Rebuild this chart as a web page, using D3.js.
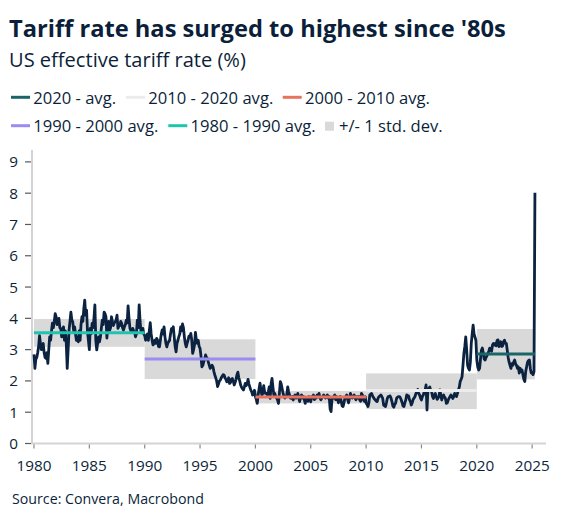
<!DOCTYPE html>
<html><head><meta charset="utf-8">
<script src="https://cdn.jsdelivr.net/npm/d3@7"></script>
<style>body{margin:0;background:#fff}svg{display:block}</style>
</head><body><svg id="c" width="567" height="521"></svg>
<script>
// Monthly US effective tariff rate (%), Jan 1980 onward
const tariff1980s = [
2.85,2.4,2.7,2.75,2.9,3.1,3.45,3.2,3.0,3.15,3.2,2.9,
2.75,2.72,2.9,2.56,3.0,3.41,3.3,3.6,3.85,3.7,3.9,4.15,
4.05,3.8,3.94,4.0,3.7,3.68,3.41,3.5,3.73,3.3,3.6,3.2,
2.4,3.0,3.62,3.9,4.2,3.95,3.89,3.6,3.73,3.5,3.3,3.4,
3.25,3.6,3.3,3.8,4.05,3.9,4.3,4.58,4.1,4.26,3.57,3.3,
3.0,3.68,3.5,3.84,3.7,4.0,4.43,3.3,2.99,3.2,3.41,3.25,
3.4,3.68,3.94,3.8,4.2,4.15,4.05,3.37,3.73,3.9,3.62,3.7,
4.05,3.9,3.77,3.85,3.89,3.95,4.1,3.68,3.75,3.77,3.9,3.84,
3.7,3.62,3.73,3.8,3.94,3.85,4.4,4.0,3.68,3.6,3.57,3.68,
3.6,3.57,3.41,3.5,3.94,3.7,4.43,3.9,3.57,3.6,3.68,3.5];
const tariff1990s = [
3.45,3.3,3.41,3.5,3.3,3.6,3.86,3.5,3.3,3.15,3.2,3.3,
3.2,3.36,3.3,3.1,3.09,3.3,3.5,3.63,3.5,3.73,3.4,3.2,
3.09,3.2,3.25,3.3,3.5,3.67,3.6,3.73,3.4,3.1,2.93,3.2,
3.3,3.41,3.5,3.73,3.6,3.82,3.7,3.4,3.2,3.09,3.2,3.3,
3.43,3.4,3.52,3.3,2.88,3.0,3.15,3.55,3.3,3.2,3.3,3.1,
3.04,2.8,2.45,2.5,2.61,2.7,2.83,2.75,2.72,2.6,2.5,2.4,
2.45,2.5,2.45,2.3,2.19,2.1,2.0,1.82,1.9,2.0,2.03,2.1,
2.15,2.2,2.19,2.1,2.05,1.97,2.0,2.1,1.92,1.95,2.05,2.08,
2.0,1.87,1.95,2.05,2.2,2.28,2.1,2.0,1.87,1.8,1.75,1.71,
1.8,1.92,1.85,1.9,2.05,1.9,1.8,1.71,1.65,1.55,1.6,1.7];
const tariff2000s = [
1.5,1.4,1.28,1.55,1.75,1.93,1.7,1.55,1.6,1.85,1.65,1.6,
1.6,1.55,1.65,1.81,1.44,1.9,2.08,1.8,1.55,1.6,1.5,1.45,
1.39,1.28,1.6,1.98,1.9,1.75,1.6,1.5,1.45,1.5,1.55,1.81,
1.65,1.55,1.45,1.44,1.5,1.39,1.5,1.55,1.45,1.5,1.6,1.45,
1.34,1.5,1.55,1.45,1.5,1.4,1.28,1.45,1.4,1.35,1.5,1.45,
1.33,1.5,1.45,1.55,1.4,1.5,1.45,1.55,1.5,1.6,1.45,1.4,
1.45,1.5,1.55,1.5,1.45,1.5,1.55,1.45,1.5,1.1,1.02,1.4,
1.45,1.5,1.55,1.4,1.5,1.45,1.3,1.45,1.5,1.35,1.2,1.18,
1.3,1.45,1.5,1.55,1.4,1.3,1.45,1.6,1.5,1.45,1.5,1.55,
1.45,1.4,1.5,1.45,1.5,1.4,1.35,1.6,1.55,1.4,1.35,1.5];
const tariff2010s = [
1.29,1.25,1.18,1.3,1.55,1.58,1.6,1.52,1.47,1.42,1.39,1.35,
1.34,1.45,1.5,1.52,1.55,1.5,1.44,1.23,1.2,1.18,1.3,1.44,
1.5,1.51,1.52,1.45,1.34,1.2,1.16,1.25,1.29,1.44,1.48,1.5,
1.5,1.47,1.4,1.31,1.2,1.18,1.3,1.39,1.55,1.53,1.52,1.4,
1.34,1.23,1.3,1.41,1.45,1.5,1.6,1.65,1.73,1.6,1.55,1.45,
1.39,1.5,1.55,1.65,1.71,1.87,1.07,1.7,1.76,1.81,1.7,1.65,
1.5,1.44,1.55,1.6,1.5,1.41,1.45,1.5,1.71,1.55,1.39,1.5,
1.55,1.48,1.44,1.28,1.3,1.39,1.45,1.5,1.55,1.5,1.44,1.5,
1.6,1.55,1.5,1.6,1.71,1.8,1.98,2.05,2.13,2.5,2.88,3.1,
3.41,3.0,2.5,2.4,2.35,2.6,3.2,3.5,3.78,3.5,3.4,3.3];
const tariff2020s = [
2.67,2.45,2.35,2.4,2.7,2.98,3.05,2.9,2.7,2.67,2.75,2.8,
2.88,2.95,3.05,3.0,2.95,3.15,3.2,3.15,3.2,3.12,3.3,3.31,
3.1,3.15,3.25,3.1,3.12,3.25,3.3,3.2,3.2,2.98,2.75,2.6,
2.5,2.4,2.55,2.5,2.6,2.67,2.55,2.5,2.4,2.45,2.25,2.4,
2.3,2.35,2.2,2.05,1.98,2.3,2.45,2.6,2.65,2.67,2.4,2.25,
2.28,2.2,2.3,8.01];

// Decade averages and +/- 1 std. dev. bands
const periodStart = [1980, 1990, 2000, 2010, 2020];
const periodEnd   = [1990, 2000, 2010, 2020, 2025.25];
const periodMean  = [3.54, 2.70, 1.49, 1.69, 2.86];
const periodLow   = [3.09, 2.06, 1.28, 1.10, 2.05];
const periodHigh  = [3.98, 3.33, 1.68, 2.24, 3.66];

const legendLabels = ["2020 - avg.", "2010 - 2020 avg.", "2000 - 2010 avg.",
                      "1990 - 2000 avg.", "1980 - 1990 avg.", "+/- 1 std. dev."];
const xTicks = [1980, 1985, 1990, 1995, 2000, 2005, 2010, 2015, 2020, 2025];
const yTicks = [0, 1, 2, 3, 4, 5, 6, 7, 8, 9];

// ---- styling ----
const FONT = "'Open Sans', 'Noto Sans', sans-serif";
const periodColors = ["#1fc4ae", "#9a8cf0", "#e9725f", "#ececec", "#1b6468"];
const bandColor = "#d9d9d9";
const lineColor = "#0b2340";
const textColor = "#0b1f3a";

const svg = d3.select("#c");
const x = d3.scaleLinear().domain([1979.82, 2026.25]).range([32, 546]);
const y = d3.scaleLinear().domain([0, 9.38]).range([443.5, 150]);

function fit(sel, w) {
  const len = sel.node().getComputedTextLength();
  const fs = parseFloat(sel.attr("font-size"));
  const nfs = fs * w / len;
  sel.attr("font-size", nfs);
  return nfs;
}

// Title & subtitle
const title = svg.append("text").attr("x", 9).attr("y", 36.7)
  .attr("font-family", FONT).attr("font-weight", 700).attr("font-size", 25)
  .attr("fill", textColor).text("Tariff rate has surged to highest since '80s");
fit(title, 497);
const sub = svg.append("text").attr("x", 9).attr("y", 67.3)
  .attr("font-family", FONT).attr("font-size", 20)
  .attr("fill", textColor).text("US effective tariff rate (%)");
fit(sub, 237);

// Legend
const legendPos = [[11, 97.3], [126, 97.3], [282.7, 97.3], [11, 125.7], [168.3, 125.7], [325, 125.7]];
const legendColors = [periodColors[4], periodColors[3], periodColors[2], periodColors[1], periodColors[0], bandColor];
const probe = svg.append("text").attr("font-family", FONT).attr("font-size", 16).text(legendLabels[2]);
const legFs = fit(probe, 125);
probe.remove();
legendLabels.forEach((lab, i) => {
  const [lx, ly] = legendPos[i];
  const g = svg.append("g");
  if (i < 5) {
    g.append("line").attr("x1", lx).attr("x2", lx + 19).attr("y1", ly).attr("y2", ly)
      .attr("stroke", legendColors[i]).attr("stroke-width", 3);
    g.append("text").attr("x", lx + 22.3).attr("y", ly + 6.7)
      .attr("font-family", FONT).attr("font-size", legFs).attr("fill", textColor).text(lab);
  } else {
    g.append("rect").attr("x", lx).attr("y", ly - 4).attr("width", 9).attr("height", 9)
      .attr("fill", bandColor);
    g.append("text").attr("x", lx + 14).attr("y", ly + 6.7)
      .attr("font-family", FONT).attr("font-size", legFs).attr("fill", textColor).text(lab);
  }
});

// Bands
const periods = periodStart.map((s, i) => ({s, e: periodEnd[i], m: periodMean[i], lo: periodLow[i], hi: periodHigh[i], c: periodColors[i]}));
svg.append("g").selectAll("rect").data(periods).join("rect")
  .attr("x", d => x(d.s)).attr("width", d => x(d.e) - x(d.s))
  .attr("y", d => y(d.hi)).attr("height", d => y(d.lo) - y(d.hi))
  .attr("fill", bandColor);

// Axes lines
svg.append("line").attr("x1", 32).attr("x2", 32).attr("y1", 150).attr("y2", y(0))
  .attr("stroke", "#d4d4d4").attr("stroke-width", 2);
svg.append("line").attr("x1", 31).attr("x2", 546).attr("y1", y(0)).attr("y2", y(0))
  .attr("stroke", "#d4d4d4").attr("stroke-width", 2);

// Y ticks
const probeT = svg.append("text").attr("font-family", FONT).attr("font-size", 15).text("1980");
const tickFs = fit(probeT, 35);
probeT.remove();
const yAxis = svg.append("g");
yTicks.forEach(t => {
  yAxis.append("line").attr("x1", 25).attr("x2", 31).attr("y1", y(t)).attr("y2", y(t))
    .attr("stroke", "#5a5a5a").attr("stroke-width", 1.2);
  yAxis.append("text").attr("x", 18).attr("y", y(t)).attr("dy", "0.36em")
    .attr("text-anchor", "end").attr("font-family", FONT).attr("font-size", tickFs)
    .attr("fill", textColor).text(t);
});
// X ticks
const xAxis = svg.append("g");
xTicks.forEach(t => {
  xAxis.append("line").attr("x1", x(t)).attr("x2", x(t)).attr("y1", y(0) + 1).attr("y2", y(0) + 5)
    .attr("stroke", "#8a8a8a").attr("stroke-width", 1.2);
  xAxis.append("text").attr("x", x(t)).attr("y", 471)
    .attr("text-anchor", "middle").attr("font-family", FONT).attr("font-size", tickFs)
    .attr("fill", textColor).text(t);
});

// Series line
const values = [].concat(tariff1980s, tariff1990s, tariff2000s, tariff2010s, tariff2020s);
const series = values.map((v, i) => ({t: 1980 + i / 12, v}));
svg.append("path").datum(series)
  .attr("fill", "none").attr("stroke", lineColor).attr("stroke-width", 2.8)
  .attr("stroke-linejoin", "round")
  .attr("d", d3.line().x(d => x(d.t)).y(d => y(d.v)));

// Mean lines
svg.append("g").selectAll("line").data(periods).join("line")
  .attr("x1", d => x(d.s)).attr("x2", d => x(d.e))
  .attr("y1", d => y(d.m)).attr("y2", d => y(d.m))
  .attr("stroke", d => d.c).attr("stroke-width", 3);

// Source
const src = svg.append("text").attr("x", 12).attr("y", 504)
  .attr("font-family", FONT).attr("font-size", 13).attr("fill", textColor)
  .text("Source: Convera, Macrobond");
fit(src, 192);
</script></body></html>
